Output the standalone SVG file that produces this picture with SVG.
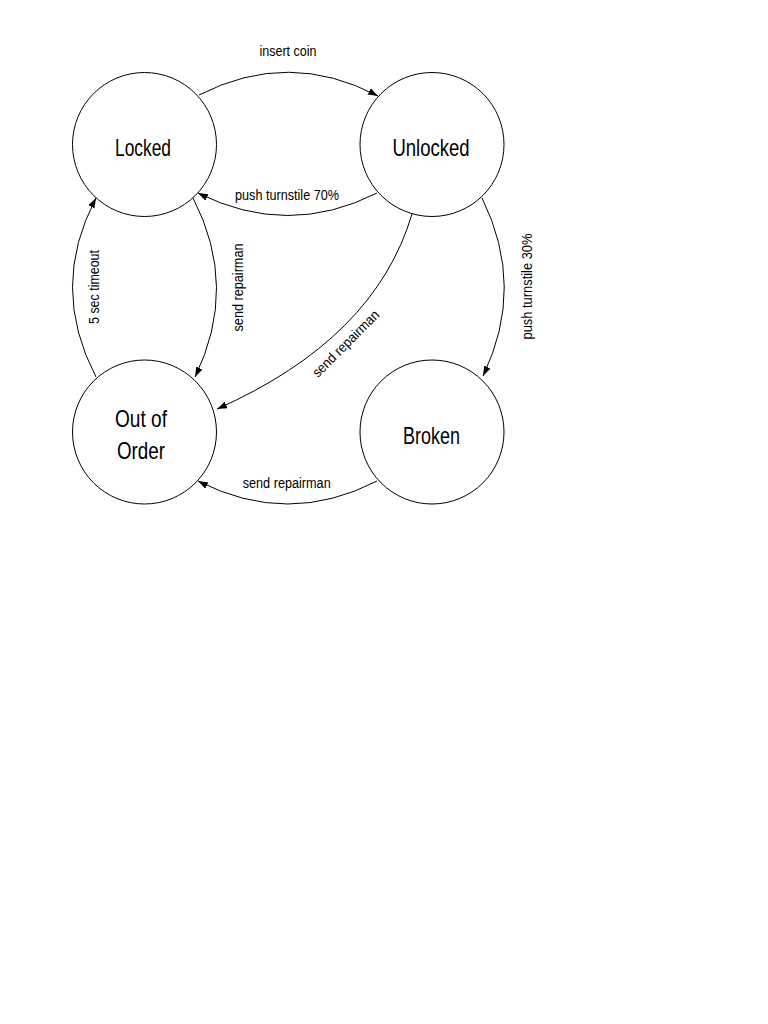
<svg xmlns="http://www.w3.org/2000/svg" width="768" height="1024" viewBox="0 0 768 1024">
<style>
.node{fill:#fff;stroke:#000;stroke-width:1}
.big{font-family:"Liberation Sans",Arial,sans-serif;font-size:24px;fill:#000;text-anchor:middle}
.lbl{font-family:"Liberation Sans",Arial,sans-serif;font-size:14px;fill:#000;text-anchor:middle}
.edge{fill:none;stroke:#000;stroke-width:1;marker-end:url(#arr)}
</style>
<defs>
<marker id="arr" markerUnits="userSpaceOnUse" markerWidth="11" markerHeight="8" refX="10" refY="3.5" orient="auto">
<path d="M0,0 L10,3.5 L0,7 z" fill="#000"/>
</marker>
</defs>
<rect width="768" height="1024" fill="#fff"/>
<g id="locked"><circle class="node" cx="144.5" cy="144.5" r="72"/><text class="big" x="143" y="156" textLength="56" lengthAdjust="spacingAndGlyphs">Locked</text></g>
<g id="unlocked"><circle class="node" cx="432" cy="144.5" r="72"/><text class="big" x="431" y="156" textLength="77" lengthAdjust="spacingAndGlyphs">Unlocked</text></g>
<g id="outoforder"><circle class="node" cx="144.5" cy="432" r="72"/><text class="big" x="141" y="427" textLength="52" lengthAdjust="spacingAndGlyphs">Out of</text><text class="big" x="141" y="459" textLength="48" lengthAdjust="spacingAndGlyphs">Order</text></g>
<g id="broken"><circle class="node" cx="432" cy="432" r="72"/><text class="big" x="431.5" y="444" textLength="57" lengthAdjust="spacingAndGlyphs">Broken</text></g>
<g id="connectors">
<path class="edge" d="M199,95 Q289,49 378,96"/>
<path class="edge" d="M377,193 Q288,238 198,193"/>
<path class="edge" d="M96,377 Q49,287 96,198"/>
<path class="edge" d="M193,198 Q239,287 195,377"/>
<path class="edge" d="M482,198 Q526,287 483,376"/>
<path class="edge" d="M412,214 Q375,339 217,409"/>
<path class="edge" d="M377,481 Q288,527 198,481"/>
<text class="lbl" x="288" y="55.5" textLength="57" lengthAdjust="spacingAndGlyphs">insert coin</text>
<text class="lbl" x="287" y="199.5" textLength="104" lengthAdjust="spacingAndGlyphs">push turnstile 70%</text>
<text class="lbl" transform="translate(99,287) rotate(-90)" x="0" y="0" textLength="74" lengthAdjust="spacingAndGlyphs">5 sec timeout</text>
<text class="lbl" transform="translate(243,287.5) rotate(-90)" x="0" y="0" textLength="88" lengthAdjust="spacingAndGlyphs">send repairman</text>
<text class="lbl" transform="translate(532,286.5) rotate(-90)" x="0" y="0" textLength="106" lengthAdjust="spacingAndGlyphs">push turnstile 30%</text>
<text class="lbl" transform="translate(349,347) rotate(-45)" x="0" y="0" textLength="88" lengthAdjust="spacingAndGlyphs">send repairman</text>
<text class="lbl" x="286.7" y="487.5" textLength="88" lengthAdjust="spacingAndGlyphs">send repairman</text>
</g>
</svg>
